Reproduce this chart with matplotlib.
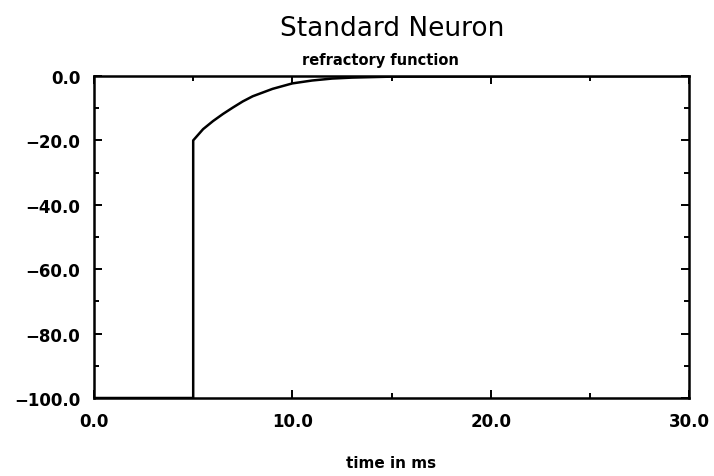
import matplotlib
matplotlib.use("Agg")
import matplotlib.pyplot as plt
from matplotlib.ticker import MultipleLocator, FuncFormatter

# refractory function (time in ms, potential)
t = [0.0, 5.0, 5.0, 5.5, 6.0, 6.5, 7.0, 7.5, 8.0, 9.0, 10.0, 11.0, 12.0, 13.0, 15.0, 30.0]
v = [-100.0, -100.0, -20.0, -16.5, -14.0, -11.8, -9.8, -7.9, -6.3, -4.0, -2.3, -1.4, -0.8, -0.5, -0.2, 0.0]

x_ticks = [0.0, 10.0, 20.0, 30.0]
y_ticks = [0.0, -20.0, -40.0, -60.0, -80.0, -100.0]

def fmt(val, pos):
    s = '%.1f' % abs(val)
    return ('\u2212' + s) if val < 0 else s

fig = plt.figure(figsize=(7.14, 4.77), dpi=100)
ax = fig.add_axes([0.1317, 0.1635, 0.8333, 0.6751])

ax.plot(t, v, color='black', linewidth=1.8)

ax.set_xlim(0, 30)
ax.set_ylim(-100, 0)
ax.set_xticks(x_ticks)
ax.set_yticks(y_ticks)
ax.xaxis.set_minor_locator(MultipleLocator(5))
ax.yaxis.set_minor_locator(MultipleLocator(10))
ax.xaxis.set_major_formatter(FuncFormatter(fmt))
ax.yaxis.set_major_formatter(FuncFormatter(fmt))

ax.tick_params(which='both', direction='in', top=True, right=True, width=1.4)
ax.tick_params(which='major', length=6, labelsize=12, pad=10)
ax.tick_params(which='minor', length=3.5)
ax.tick_params(axis='y', which='major', pad=10)
for lab in ax.get_xticklabels() + ax.get_yticklabels():
    lab.set_fontweight('bold')

for s in ax.spines.values():
    s.set_linewidth(1.8)

fig.text(0.549, 0.94, 'Standard Neuron', ha='center', va='center', fontsize=19)
fig.text(0.533, 0.874, 'refractory function', ha='center', va='center', fontsize=10.5, fontweight='bold')
ax.set_xlabel('time in ms', fontsize=11, fontweight='bold', labelpad=18)

fig.savefig('out.png', dpi=100)
